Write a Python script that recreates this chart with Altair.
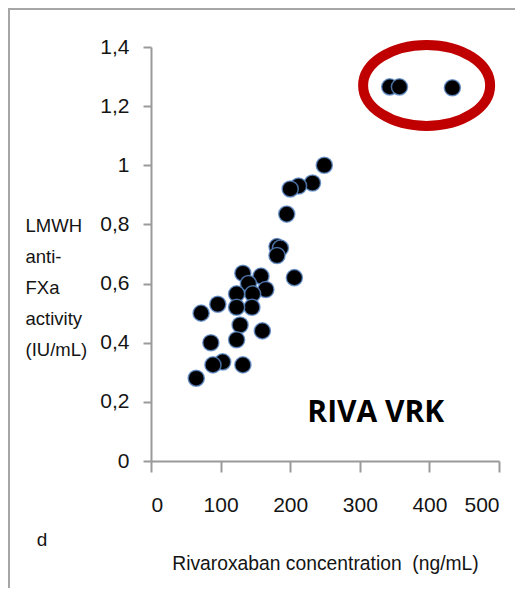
import altair as alt
import pandas as pd

# Data
conc = [249, 232, 212, 200, 195, 181, 186, 181, 206, 158, 165, 132, 140, 146,
        123, 145, 123, 96, 72, 128, 123, 160, 86, 103, 89, 132, 65,
        343, 357, 433]
antixa = [1.00, 0.94, 0.93, 0.92, 0.835, 0.725, 0.72, 0.695, 0.62, 0.625, 0.58,
          0.635, 0.60, 0.565, 0.565, 0.52, 0.52, 0.53, 0.50, 0.46, 0.41, 0.44,
          0.40, 0.335, 0.325, 0.325, 0.28,
          1.265, 1.265, 1.262]

x_ticks = [0, 100, 200, 300, 400, 500]
y_ticks = [0, 0.2, 0.4, 0.6, 0.8, 1.0, 1.2, 1.4]

ellipse_center_x = [396]
ellipse_center_y = [1.27]

label_text = ["RIVA VRK"]
label_x = [323]
label_y = [0.164]

y_title = ["LMWH", "anti-", "FXa", "activity", "(IU/mL)"]
x_title = "Rivaroxaban concentration\u00a0 (ng/mL)"

TXT = "#141414"
AX = "#9a9a9a"
FONT = "Liberation Sans"

pts = pd.DataFrame({"conc": conc, "antixa": antixa})
ell = pd.DataFrame({"conc": ellipse_center_x, "antixa": ellipse_center_y})
lab = pd.DataFrame({"conc": label_x, "antixa": label_y, "t": label_text})

xs = alt.Scale(domain=[0, 500], nice=False, zero=False)
ys = alt.Scale(domain=[0, 1.4], nice=False)

x_axis = alt.Axis(values=x_ticks, grid=False, title=x_title, tickSize=11,
                  labelPadding=22, labelFontSize=21, labelFont=FONT, labelColor=TXT,
                  titleFont=FONT, titleFontSize=19.3, titleFontWeight="normal",
                  titleColor=TXT, titleBaseline="top", titleY=93,
                  domainColor=AX, tickColor=AX, domainWidth=2, tickWidth=2)
y_axis = alt.Axis(values=y_ticks, grid=False, title=y_title, tickSize=8,
                  labelPadding=14, labelFontSize=21, labelFont=FONT, labelColor=TXT,
                  labelExpr="replace(toString(datum.value), '.', ',')",
                  titleFont=FONT, titleFontSize=18.5, titleFontWeight="normal",
                  titleColor=TXT, titleAngle=0, titleAlign="left",
                  titleBaseline="top", titleX=-126, titleY=169, titleLineHeight=31,
                  domainColor=AX, tickColor=AX, domainWidth=2, tickWidth=2)

scatter = alt.Chart(pts).mark_point(
    filled=True, shape="circle", size=260, color="black",
    stroke="#5b8ac7", strokeWidth=1.5, strokeOpacity=0.8, opacity=1
).encode(
    x=alt.X("conc:Q", scale=xs, axis=x_axis),
    y=alt.Y("antixa:Q", scale=ys, axis=y_axis),
)

ellipse_path = "M -1 0 A 1 0.638 0 1 1 1 0 A 1 0.638 0 1 1 -1 0 Z"
ellipse = alt.Chart(ell).mark_point(
    shape=ellipse_path, size=127 * 127, filled=False, color="#c00000",
    strokeWidth=10, opacity=1
).encode(
    x=alt.X("conc:Q", scale=xs),
    y=alt.Y("antixa:Q", scale=ys),
)

label = alt.Chart(lab).mark_text(
    font="Open Sans", fontSize=30, fontWeight="bold", color="black",
    align="center", baseline="middle"
).encode(
    x=alt.X("conc:Q", scale=xs),
    y=alt.Y("antixa:Q", scale=ys),
    text="t:N",
)

panel = alt.Chart(pd.DataFrame({"t": ["d"]})).mark_text(
    font=FONT, fontSize=19, color=TXT, align="center", baseline="middle"
).encode(x=alt.value(-109), y=alt.value(493), text="t:N")

frame_left = alt.Chart(pd.DataFrame({"a": [0]})).mark_rule(
    color="#a6a6a6", strokeWidth=2
).encode(x=alt.value(-142), y=alt.value(-39), y2=alt.value(560))
frame_top = alt.Chart(pd.DataFrame({"a": [0]})).mark_rule(
    color="#a6a6a6", strokeWidth=2
).encode(x=alt.value(-143), x2=alt.value(400), y=alt.value(-38))

chart = alt.layer(frame_left, frame_top, scatter, ellipse, label, panel).properties(
    width=348, height=414,
    autosize=alt.AutoSizeParams(type="none"),
    padding={"left": 143, "top": 39, "right": 16, "bottom": 127},
).configure_view(stroke=None)

chart.save("out.html", embed_options={"renderer": "svg", "actions": False})
